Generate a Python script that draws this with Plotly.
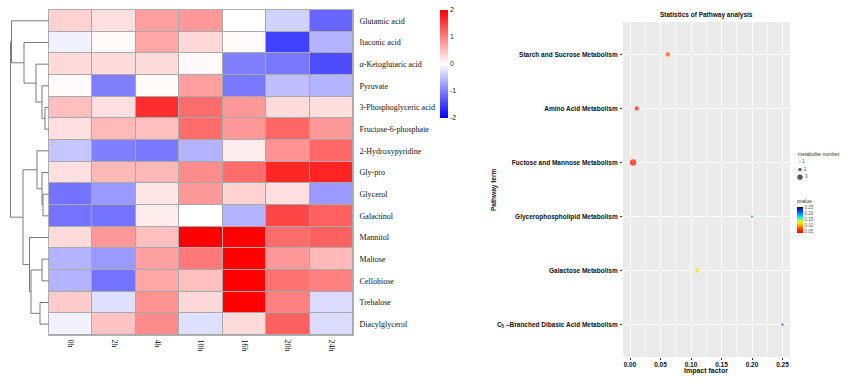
import plotly.graph_objects as go

# ---------------- data ----------------
metabolites = ["Glutamic acid", "Itaconic acid", "α-Ketoglutaric acid", "Pyruvate",
               "3-Phosphoglyceric acid", "Fructose-6-phosphate", "2-Hydroxypyridine",
               "Gly-pro", "Glycerol", "Galactinol", "Mannitol", "Maltose",
               "Cellobiose", "Trehalose", "Diacylglycerol"]
time_points = ["0h", "2h", "4h", "10h", "16h", "20h", "24h"]

z_values = [
    [0.35, 0.25, 0.75, 0.80, 0.00, -0.35, -1.20],
    [-0.10, 0.05, 0.70, 0.30, 0.03, -1.50, -0.60],
    [0.28, 0.28, 0.28, 0.05, -1.00, -1.05, -1.40],
    [0.03, -1.00, 0.03, 0.75, -1.05, -0.50, -0.60],
    [0.50, 0.25, 1.65, 1.15, 0.80, 0.28, 0.26],
    [0.25, 0.55, 0.50, 1.15, 0.80, 1.20, 0.80],
    [-0.45, -1.00, -1.05, -0.60, 0.15, 0.85, 1.20],
    [0.25, 0.55, 0.55, 0.90, 1.15, 1.70, 1.72],
    [-1.10, -0.80, 0.20, 0.80, 0.35, 0.25, -0.80],
    [-1.10, -1.10, 0.15, 0.00, -0.60, 1.45, 1.25],
    [0.28, 0.80, 0.50, 2.00, 2.00, 1.15, 1.25],
    [-0.60, -0.80, 0.75, 1.05, 2.00, 0.80, 0.55],
    [-0.60, -1.10, 0.70, 0.50, 2.00, 1.10, 1.00],
    [0.40, -0.25, 0.85, 0.30, 2.00, 1.00, -0.28],
    [-0.10, 0.47, 0.90, -0.25, 0.28, 1.25, -0.28],
]
colorbar_ticks = [2, 1, 0, -1, -2]

# hierarchical clustering merges: (left node, right node, height); leaves 0..14, merges 15..
dendro_merges = [
    (4, 5, 4.0), (3, 15, 7.0), (2, 16, 13.0), (1, 17, 25.0), (0, 18, 37.5),
    (8, 9, 6.0), (7, 20, 7.0), (6, 21, 12.0),
    (11, 12, 7.0), (13, 14, 9.0), (23, 24, 18.0), (10, 25, 19.5),
    (22, 26, 26.0), (19, 27, 38.5),
]

pathways = ["Starch and Sucrose Metabolism", "Amino Acid Metabolism",
            "Fuctose and Mannose Metabolism", "Glycerophospholipid Metabolism",
            "Galactose Metabolism", "C<sub>5</sub> –Branched Dibasic Acid Metabolism"]
impact = [0.062, 0.011, 0.005, 0.200, 0.110, 0.250]
pvalue = [0.075, 0.055, 0.050, 0.210, 0.125, 0.250]
met_number = [2, 2, 3, 1, 2, 1]
size_levels = [1, 2, 3]
pvalue_ticks = [0.05, 0.10, 0.15, 0.20, 0.25]
impact_ticks = [0.00, 0.05, 0.10, 0.15, 0.20, 0.25]

# ---------------- helpers ----------------
W, H = 842, 381
def px(x):
    return x / W
def py(y):
    return 1 - y / H

fig = go.Figure()

# ---------------- heatmap ----------------
nrow = len(metabolites)
ncol = len(time_points)
fig.add_trace(go.Heatmap(
    z=z_values, x=list(range(ncol)), y=list(range(nrow)),
    zmin=-2, zmax=2,
    colorscale=[[0, "#0000FF"], [0.5, "#FFFFFF"], [1, "#FF0000"]],
    xgap=1, ygap=1,
    xaxis="x", yaxis="y",
    colorbar=dict(
        x=px(440), xanchor="left", y=py(10), yanchor="top",
        len=108, lenmode="pixels", thickness=8, thicknessmode="pixels",
        outlinewidth=0, ticks="", tickvals=colorbar_ticks,
        ticktext=[str(v) for v in colorbar_ticks],
        tickfont=dict(family="Liberation Sans", size=7, color="#222"),
        xpad=0, ypad=0,
    ),
    hoverinfo="skip",
))

# ---------------- dendrogram ----------------
pos = {i: float(i) for i in range(nrow)}
hgt = {i: 0.0 for i in range(nrow)}
dx, dy = [], []
for k, (a, b, h) in enumerate(dendro_merges):
    nid = nrow + k
    pos[nid] = (pos[a] + pos[b]) / 2
    hgt[nid] = h
    dx += [hgt[a], h, h, hgt[b], None]
    dy += [pos[a], pos[a], pos[b], pos[b], None]
fig.add_trace(go.Scatter(
    x=dx, y=dy, mode="lines", line=dict(color="#7a7a7a", width=1),
    xaxis="x2", yaxis="y2", showlegend=False, hoverinfo="skip",
))

# ---------------- bubble chart ----------------
npw = len(pathways)
ypos = [npw - 1 - i for i in range(npw)]
pcolors = [[0, "#FF0000"], [0.17, "#FF4A00"], [0.37, "#FFE000"], [0.5, "#A0FF40"],
           [0.6, "#00F0FF"], [0.8, "#0060FF"], [1, "#000090"]]
sref = 0.46
fig.add_trace(go.Scatter(
    x=impact, y=ypos, mode="markers", xaxis="x3", yaxis="y3",
    marker=dict(size=met_number, sizemode="diameter", sizeref=sref,
                color=pvalue, cmin=0.04, cmax=0.255, colorscale=pcolors,
                line=dict(width=0),
                colorbar=dict(
                    x=px(797), xanchor="left", y=py(196), yanchor="top",
                    len=37, lenmode="pixels", thickness=6, thicknessmode="pixels",
                    outlinewidth=0, ticks="", tickvals=pvalue_ticks,
                    ticktext=["%.2f" % v for v in pvalue_ticks],
                    tickfont=dict(family="Liberation Sans", size=4.5, color="#555"),
                    title=dict(text="pvalue", side="top",
                               font=dict(family="Liberation Sans", size=5, color="#333")),
                    xpad=0, ypad=0,
                )),
    showlegend=False, hoverinfo="skip",
))

# size legend (own small axis)
fig.add_trace(go.Scatter(
    x=[0] * len(size_levels), y=size_levels, mode="markers+text",
    text=[str(s) for s in size_levels], textposition="middle right",
    textfont=dict(family="Liberation Sans", size=4.5, color="#444"),
    marker=dict(size=size_levels, sizemode="diameter", sizeref=sref, color="#111"),
    xaxis="x4", yaxis="y4", showlegend=False, hoverinfo="skip", cliponaxis=False,
))

# ---------------- layout ----------------
serif = "Liberation Serif"
bold = dict(family="Liberation Sans", size=6.5, color="#111", weight="bold")
fig.update_layout(
    width=W, height=H, margin=dict(l=0, r=0, t=0, b=0),
    paper_bgcolor="white", plot_bgcolor="rgba(0,0,0,0)",
    xaxis=dict(domain=[px(49), px(353)], range=[-0.5, ncol - 0.5],
               tickvals=list(range(ncol)), ticktext=time_points, tickangle=90,
               ticks="", ticklabelstandoff=2, showgrid=False, zeroline=False,
               showline=True, mirror=True, linecolor="#b0b0b0", linewidth=1,
               tickfont=dict(family=serif, size=8, color="#111"), anchor="y"),
    yaxis=dict(domain=[py(335), py(10)], range=[nrow - 0.5, -0.5],
               tickvals=list(range(nrow)), ticktext=metabolites, side="right",
               ticks="", ticklabelstandoff=4, showgrid=False, zeroline=False,
               showline=True, mirror=True, linecolor="#b0b0b0", linewidth=1,
               tickfont=dict(family=serif, size=8, color="#111"), anchor="x"),
    xaxis2=dict(domain=[0, px(49)], range=[49, 0], visible=False, anchor="y2"),
    yaxis2=dict(domain=[py(335), py(10)], range=[nrow - 0.5, -0.5], visible=False,
                anchor="x2"),
    xaxis3=dict(domain=[px(623), px(790)], range=[-0.0115, 0.2623], anchor="y3",
                tickvals=impact_ticks, ticktext=["%.2f" % v for v in impact_ticks],
                ticks="outside", ticklen=2, tickcolor="#333", ticklabelstandoff=-1,
                showgrid=True, gridcolor="white", gridwidth=1, zeroline=False,
                minor=dict(dtick=0.025, tick0=0.025, showgrid=True,
                           gridcolor="#F7F7F7", gridwidth=0.5),
                tickfont=bold),
    yaxis3=dict(domain=[py(357), py(22)], range=[-0.6, npw - 0.4], anchor="x3",
                tickvals=ypos, ticktext=pathways,
                ticks="outside", ticklen=2, tickcolor="#333", ticklabelstandoff=1,
                showgrid=True, gridcolor="white", gridwidth=1, zeroline=False,
                tickfont=bold),
    xaxis4=dict(domain=[px(797), px(803)], range=[-1, 1], visible=False, anchor="y4"),
    yaxis4=dict(domain=[py(181), py(158)], range=[3.5, 0.5], visible=False, anchor="x4"),
    shapes=[dict(type="rect", xref="paper", yref="paper",
                 x0=px(623), x1=px(790), y0=py(357), y1=py(22),
                 fillcolor="#EBEBEB", line=dict(width=0), layer="below"),
            dict(type="rect", xref="paper", yref="paper",
                 x0=px(49), x1=px(353), y0=py(335), y1=py(10),
                 fillcolor="#a9a9a9", line=dict(width=0), layer="below")],
    annotations=[
        dict(text="Statistics of Pathway analysis", x=px(706), y=py(15),
             xref="paper", yref="paper", showarrow=False, xanchor="center",
             yanchor="middle", font=bold),
        dict(text="Impact factor", x=px(706), y=py(371), xref="paper", yref="paper",
             showarrow=False, xanchor="center", yanchor="middle",
             font=dict(family="Liberation Sans", size=7, color="#111", weight="bold")),
        dict(text="Pathway term", x=px(494), y=py(190), xref="paper", yref="paper",
             showarrow=False, textangle=-90, xanchor="center", yanchor="middle",
             font=bold),
        dict(text="metabolite number", x=px(796), y=py(154), xref="paper", yref="paper",
             showarrow=False, xanchor="left", yanchor="middle",
             font=dict(family="Liberation Sans", size=5, color="#333")),
    ],
)

fig.write_html("out.html", config={"displayModeBar": False},
               post_script="document.body.style.margin='0px';")
